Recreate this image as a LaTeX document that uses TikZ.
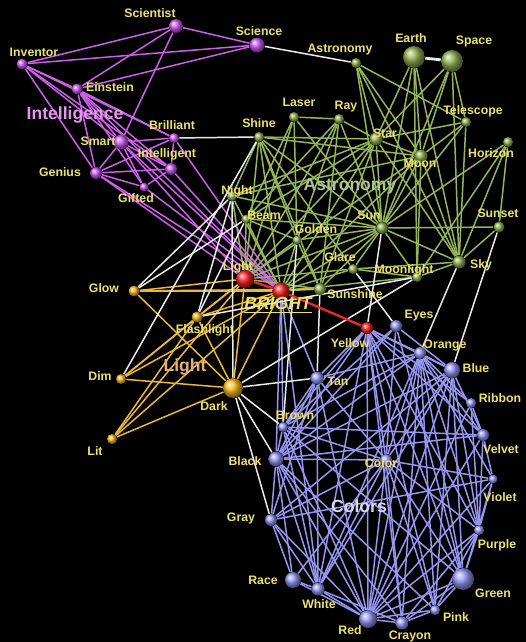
\documentclass[tikz,border=0pt]{standalone}
\usepackage{fontspec}
\setsansfont{Liberation Sans}
\usetikzlibrary{backgrounds}
\definecolor{cText}{RGB}{235, 225, 110}
\definecolor{cMag}{RGB}{210, 90, 250}
\definecolor{eMag}{RGB}{205, 95, 235}
\definecolor{cAst}{RGB}{150, 180, 80}
\definecolor{eAst}{RGB}{150, 180, 90}
\definecolor{cLgt}{RGB}{255, 190, 30}
\definecolor{eLgt}{RGB}{235, 185, 50}
\definecolor{cCol}{RGB}{155, 155, 255}
\definecolor{eCol}{RGB}{150, 150, 240}
\definecolor{cRed}{RGB}{255, 35, 35}
\definecolor{eRed}{RGB}{240, 40, 40}
\definecolor{eWht}{RGB}{235, 235, 235}
\definecolor{tInt}{RGB}{230, 150, 240}
\definecolor{tAst}{RGB}{175, 195, 150}
\definecolor{tLgt}{RGB}{225, 175, 120}
\definecolor{tCol}{RGB}{215, 215, 240}
\pgfdeclarelayer{edges}
\pgfsetlayers{background,edges,main}

\begin{document}
\begin{tikzpicture}[
    x=0.02cm, y=-0.02cm,
    ball/.style={circle, inner sep=0pt, minimum size=#1},
    mg/.style={ball=#1, ball color=cMag},
    as/.style={ball=#1, ball color=cAst},
    lg/.style={ball=#1, ball color=cLgt},
    cl/.style={ball=#1, ball color=cCol},
    rd/.style={ball=#1, ball color=cRed},
    lbl/.style={text=cText, font=\sffamily\bfseries\fontsize{7}{8}\selectfont, inner sep=0pt},
    grp/.style={text=#1, font=\sffamily\bfseries\fontsize{10}{12}\selectfont, inner sep=0pt},
    link/.style={draw=#1, line width=0.85pt}
]

\begin{pgfonlayer}{background}
\fill[black] (0,0) rectangle (526,642);
\end{pgfonlayer}

% Intelligence
\node[mg=7.9pt] (scientist) at (176,26) {};
\node[mg=8.5pt] (science) at (257,45) {};
\node[mg=6.2pt] (inventor) at (22,64) {};
\node[mg=6.2pt] (einstein) at (77,89) {};
\node[mg=8.5pt] (smart) at (121,142) {};
\node[mg=5.7pt] (brilliant) at (174,138) {};
\node[mg=6.8pt] (intelligent) at (171,169) {};
\node[mg=6.8pt] (genius) at (96,173) {};
\node[mg=5.1pt] (gifted) at (144,187) {};

% Astronomy
\node[as=5.7pt] (astro) at (356,63) {};
\node[as=12.5pt] (earth) at (414,57) {};
\node[as=12.5pt] (space) at (452,61) {};
\node[as=5.7pt] (laser) at (294,117) {};
\node[as=5.7pt] (ray) at (339,119) {};
\node[as=5.7pt] (shine) at (259,137) {};
\node[as=7.4pt] (star) at (376,139) {};
\node[as=5.7pt] (telescope) at (466,122) {};
\node[as=5.7pt] (horizon) at (508,142) {};
\node[as=7.4pt] (moon) at (421,156) {};
\node[as=5.7pt] (night) at (232,196) {};
\node[as=5.1pt] (beam) at (246,219) {};
\node[as=5.1pt] (golden) at (297,240) {};
\node[as=6.8pt] (sun) at (382,228) {};
\node[as=6.2pt] (sunset) at (499,227) {};
\node[as=5.7pt] (glare) at (353,269) {};
\node[as=5.7pt] (moonlight) at (417,277) {};
\node[as=7.4pt] (sky) at (459,262) {};
\node[as=6.8pt] (sunshine) at (320,289) {};

% Light
\node[lg=6.2pt] (glow) at (134,291) {};
\node[lg=6.2pt] (flash) at (197,317) {};
\node[lg=5.7pt] (dim) at (121,379) {};
\node[lg=11.3pt] (dark) at (233,388) {};
\node[lg=5.7pt] (lit) at (112,439) {};

% Bright
\node[rd=10.2pt] (light) at (245,279) {};
\node[rd=9.6pt] (bright) at (281,291) {};
\node[rd=6.8pt] (yellow) at (367,328) {};

% Colors
\node[cl=6.8pt] (eyes) at (396,326) {};
\node[cl=6.8pt] (orange) at (420,353) {};
\node[cl=7.4pt] (tan) at (317,378) {};
\node[cl=9.1pt] (blue) at (452,370) {};
\node[cl=5.7pt] (ribbon) at (471,403) {};
\node[cl=5.7pt] (brown) at (283,427) {};
\node[cl=6.8pt] (color) at (386,460) {};
\node[cl=6.8pt] (velvet) at (483,435) {};
\node[cl=8.5pt] (black) at (276,459) {};
\node[cl=5.1pt] (violet) at (493,479) {};
\node[cl=6.8pt] (gray) at (271,520) {};
\node[cl=5.7pt] (purple) at (479,530) {};
\node[cl=9.1pt] (race) at (293,580) {};
\node[cl=12.5pt] (green) at (463,579) {};
\node[cl=7.4pt] (white) at (318,589) {};
\node[cl=5.7pt] (pink) at (435,610) {};
\node[cl=10.2pt] (red) at (368,619) {};
\node[cl=7.4pt] (crayon) at (402,623) {};

\begin{pgfonlayer}{edges}
\foreach \a/\b in {scientist/science, scientist/inventor, scientist/einstein, scientist/smart,
    science/inventor, science/einstein, inventor/einstein, inventor/smart, inventor/genius,
    inventor/intelligent, inventor/brilliant, einstein/genius, einstein/smart, einstein/brilliant,
    einstein/intelligent, einstein/gifted, smart/genius, smart/brilliant, smart/intelligent,
    smart/gifted, genius/intelligent, genius/brilliant, genius/gifted, brilliant/intelligent,
    gifted/intelligent, einstein/bright, smart/bright, genius/bright, brilliant/bright,
    intelligent/bright, gifted/bright, smart/light, genius/light}
    \draw[link=eMag] (\a) -- (\b);

\foreach \a/\b in {astro/star, astro/moon, astro/telescope, astro/sun, astro/sky,
    earth/moon, earth/sun, earth/sky, earth/star, earth/moonlight,
    space/star, space/moon, space/telescope, space/sky, space/sun,
    telescope/star, telescope/moon, telescope/sky, telescope/sun,
    horizon/sky, horizon/sunset, horizon/sun, horizon/moonlight,
    star/shine, star/ray, star/sun, star/moon, star/sky, star/night, star/sunshine,
    star/light, star/bright, star/beam,
    laser/ray, laser/beam, laser/light, laser/golden, laser/sun,
    ray/beam, ray/sun, ray/light, ray/sunshine, ray/golden,
    shine/sun, shine/moon, shine/night, shine/light, shine/bright, shine/sunshine,
    shine/glare, shine/golden,
    moon/sun, moon/sky, moon/moonlight, moon/night, moon/light, moon/bright,
    night/sun, night/light, night/bright,
    sun/sky, sun/sunset, sun/sunshine, sun/golden, sun/glare, sun/light, sun/bright,
    sun/beam, sun/moonlight,
    sky/sunset, sky/moonlight, sky/glare,
    beam/light, beam/bright, beam/golden,
    golden/bright, golden/light, golden/sunshine,
    glare/bright, glare/light, glare/moonlight,
    sunshine/bright, sunshine/light, moonlight/bright}
    \draw[link=eAst] (\a) -- (\b);

\foreach \a/\b in {glow/light, glow/bright, glow/dark, glow/sunshine,
    flash/light, flash/bright, flash/dark,
    dim/light, dim/bright, dim/dark, dim/flash,
    lit/light, lit/bright, lit/dark, lit/flash,
    dark/light, dark/bright}
    \draw[link=eLgt] (\a) -- (\b);

\foreach \a/\b in {yellow/orange, yellow/blue, yellow/tan, yellow/brown, yellow/color,
    yellow/black, yellow/red, yellow/white, yellow/green, yellow/ribbon, yellow/velvet,
    yellow/purple, yellow/crayon, yellow/pink,
    eyes/blue, eyes/brown, eyes/green, eyes/color, eyes/black,
    orange/color, orange/red, orange/crayon, orange/pink, orange/green, orange/purple,
    orange/blue, orange/ribbon, orange/velvet, orange/black, orange/brown, orange/tan,
    orange/white, orange/violet,
    tan/brown, tan/color, tan/black, tan/red, tan/white, tan/gray,
    blue/color, blue/red, blue/green, blue/purple, blue/velvet, blue/black, blue/gray,
    blue/white, blue/pink,
    ribbon/velvet, ribbon/red, ribbon/purple,
    brown/black, brown/color, brown/red, brown/white, brown/green, brown/velvet,
    color/red, color/crayon, color/pink, color/purple, color/green, color/violet,
    color/black, color/white, color/race, color/gray,
    velvet/black, velvet/red, velvet/purple, velvet/violet,
    black/gray, black/race, black/white, black/red, black/pink, black/crayon,
    violet/purple, violet/red, violet/green, violet/gray,
    gray/white, gray/race, gray/red,
    purple/green, purple/red, purple/pink, purple/crayon,
    race/white, race/red, green/red, green/pink, green/crayon,
    white/red, white/crayon, pink/red, pink/crayon, red/crayon,
    bright/tan, bright/brown, bright/black, bright/white}
    \draw[link=eCol] (\a) -- (\b);

% bridges between groups
\foreach \a/\b in {science/astro, brilliant/shine, shine/dim, night/glow, beam/glow,
    night/flash, beam/flash, night/dark, golden/brown, sunshine/tan, sun/yellow,
    glare/eyes, moonlight/dark, moonlight/flash, sky/orange, sunset/blue,
    dark/tan, dark/brown, dark/black, dark/gray}
    \draw[link=eWht] (\a) -- (\b);
\draw[eWht, line width=1.6pt] (earth) -- (space);
\draw[eRed, line width=1.3pt] (light) -- (bright) -- (yellow);
\end{pgfonlayer}

% term labels
\node[lbl] (tScientist) at (150,13) {Scientist};
\node[lbl] (tScience) at (259,31) {Science};
\node[lbl] (tInventor) at (34,52) {Inventor};
\node[lbl] (tEinstein) at (110,87) {Einstein};
\node[lbl] (tBrilliant) at (172,125) {Brilliant};
\node[lbl] (tSmart) at (98,141) {Smart};
\node[lbl] (tIntelligent) at (167,154) {Intelligent};
\node[lbl] (tGenius) at (60,172) {Genius};
\node[lbl] (tGifted) at (136,198) {Gifted};

\node[lbl] (tAstro) at (340,50) {Astronomy};
\node[lbl] (tEarth) at (411,38) {Earth};
\node[lbl] (tSpace) at (474,41) {Space};
\node[lbl] (tLaser) at (299,102) {Laser};
\node[lbl] (tRay) at (346,107) {Ray};
\node[lbl] (tShine) at (259,123) {Shine};
\node[lbl] (tStar) at (385,133) {Star};
\node[lbl] (tTelescope) at (473,111) {Telescope};
\node[lbl] (tHorizon) at (491,153) {Horizon};
\node[lbl] (tMoon) at (420,163) {Moon};
\node[lbl] (tNight) at (237,191) {Night};
\node[lbl] (tBeam) at (264,215) {Beam};
\node[lbl] (tGolden) at (316,229) {Golden};
\node[lbl] (tSun) at (369,215) {Sun};
\node[lbl] (tSunset) at (498,213) {Sunset};
\node[lbl] (tGlare) at (340,257) {Glare};
\node[lbl] (tMoonlight) at (404,270) {Moonlight};
\node[lbl] (tSky) at (481,265) {Sky};
\node[lbl] (tSunshine) at (355,294) {Sunshine};

\node[lbl] (tGlow) at (104,288) {Glow};
\node[lbl] (tFlash) at (205,330) {Flashlight};
\node[lbl] (tDim) at (100,376) {Dim};
\node[lbl] (tDark) at (214,406) {Dark};
\node[lbl] (tLit) at (95,451) {Lit};

\node[lbl] (tLight) at (238,267) {Light};
\node[lbl] (tYellow) at (350,343) {Yellow};

\node[lbl] (tEyes) at (419,316) {Eyes};
\node[lbl] (tOrange) at (445,346) {Orange};
\node[lbl] (tBlue) at (476,368) {Blue};
\node[lbl] (tTan) at (338,381) {Tan};
\node[lbl] (tRibbon) at (500,398) {Ribbon};
\node[lbl] (tBrown) at (295,415) {Brown};
\node[lbl] (tVelvet) at (501,449) {Velvet};
\node[lbl] (tBlack) at (245,461) {Black};
\node[lbl] (tColor) at (381,463) {Color};
\node[lbl] (tViolet) at (500,497) {Violet};
\node[lbl] (tGray) at (241,518) {Gray};
\node[lbl] (tPurple) at (497,545) {Purple};
\node[lbl] (tRace) at (263,580) {Race};
\node[lbl] (tGreen) at (493,593) {Green};
\node[lbl] (tWhite) at (319,604) {White};
\node[lbl] (tPink) at (456,617) {Pink};
\node[lbl] (tRed) at (350,630) {Red};
\node[lbl] (tCrayon) at (410,636) {Crayon};

% group labels
\node[grp=tInt] (gInt) at (75,115) {Intelligence};
\node[grp=tAst] (gAst) at (350,186) {Astronomy};
\node[grp=tLgt] (gLgt) at (185,367) {Light};
\node[grp=tCol] (gCol) at (359,506) {Colors};
\node[grp=cText] (gBright) at (278,305) {\underline{\itshape BRIGHT}};

\end{tikzpicture}
\end{document}
